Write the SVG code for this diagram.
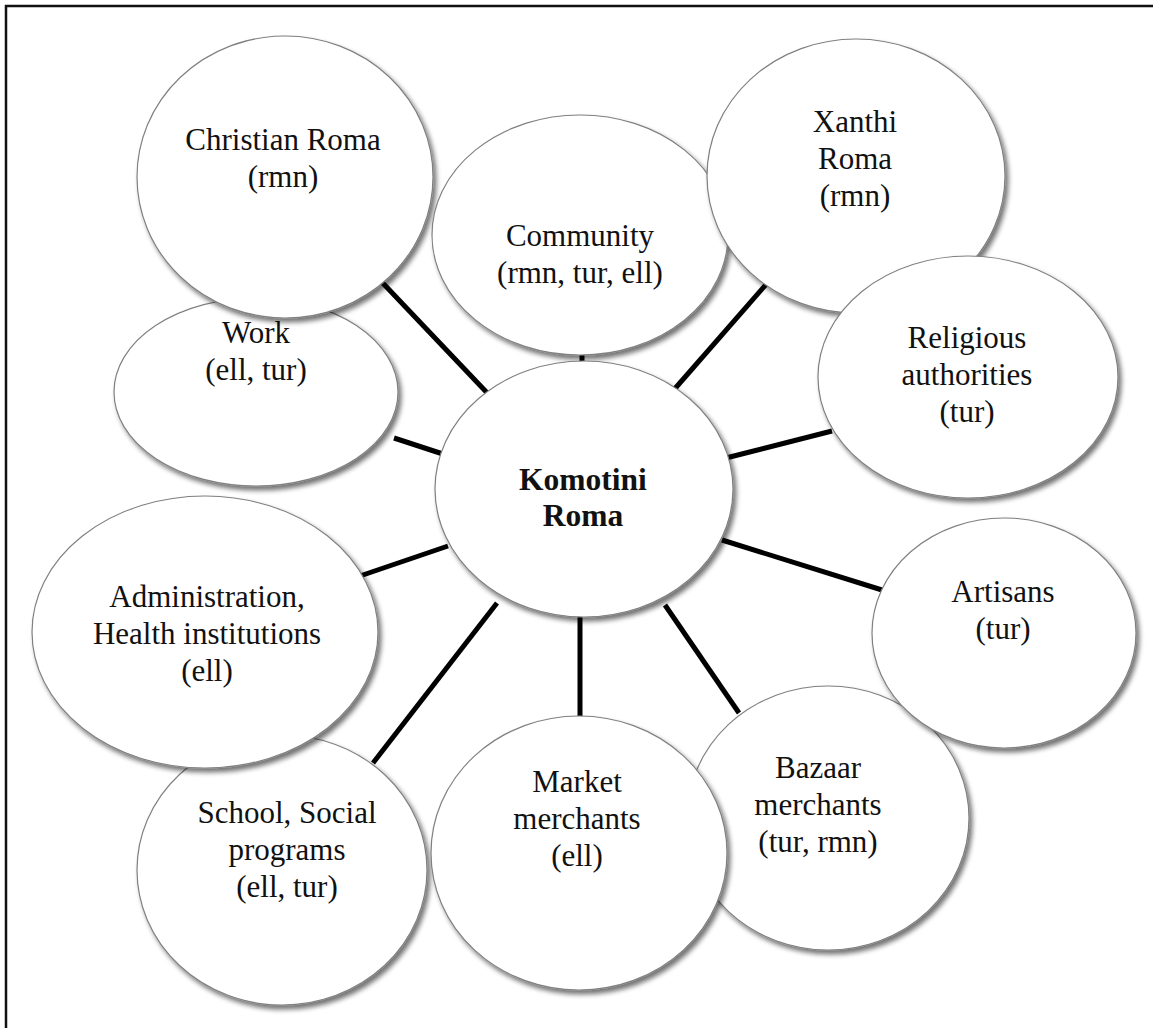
<svg xmlns="http://www.w3.org/2000/svg" width="1153" height="1028" viewBox="0 0 1153 1028">
<style>
.node{fill:#fff;stroke:#808080;stroke-width:1.2;filter:url(#sh)}
text{font-family:'Liberation Serif',serif;font-size:31px;fill:#111;text-anchor:middle}
.b{font-weight:bold;font-size:31.5px}
.c{stroke:#000;stroke-width:5;fill:none}
</style>
<defs>
<filter id="sh" x="-10%" y="-10%" width="125%" height="125%">
<feGaussianBlur in="SourceAlpha" stdDeviation="2.5"/>
<feOffset dx="2.5" dy="3.5" result="o"/>
<feComponentTransfer><feFuncA type="linear" slope="0.55"/></feComponentTransfer>
<feMerge><feMergeNode/><feMergeNode in="SourceGraphic"/></feMerge>
</filter>
</defs>
<rect x="0" y="0" width="1153" height="1028" fill="#fff"/>
<rect x="6" y="6" width="1170" height="1050" fill="none" stroke="#111" stroke-width="2.5"/>
<g id="connectors">
<line class="c" x1="378" y1="278" x2="492" y2="398"/>
<line class="c" x1="582" y1="330" x2="582" y2="365"/>
<line class="c" x1="769" y1="281" x2="672" y2="392"/>
<line class="c" x1="832" y1="431" x2="722" y2="459"/>
<line class="c" x1="394" y1="438" x2="446" y2="455"/>
<line class="c" x1="722" y1="540" x2="882" y2="590"/>
<line class="c" x1="357" y1="577" x2="448" y2="546"/>
<line class="c" x1="373" y1="763" x2="497" y2="603"/>
<line class="c" x1="580" y1="603" x2="580" y2="721"/>
<line class="c" x1="665" y1="605" x2="739" y2="713"/>
</g>
<g id="bazaar"><ellipse class="node" cx="828" cy="818" rx="141" ry="132"/>
<text x="818" y="778">Bazaar</text><text x="818" y="815">merchants</text><text x="818" y="852">(tur, rmn)</text></g>
<g id="artisans"><ellipse class="node" cx="1004" cy="633" rx="132" ry="115"/>
<text x="1003" y="602">Artisans</text><text x="1003" y="639">(tur)</text></g>
<g id="school"><ellipse class="node" cx="282" cy="870" rx="145" ry="135"/>
<text x="287" y="823">School, Social</text><text x="287" y="860">programs</text><text x="287" y="897">(ell, tur)</text></g>
<g id="market"><ellipse class="node" cx="579" cy="853" rx="148" ry="137"/>
<text x="577" y="792">Market</text><text x="577" y="829">merchants</text><text x="577" y="866">(ell)</text></g>
<g id="admin"><ellipse class="node" cx="205" cy="632" rx="173" ry="136"/>
<text x="207" y="607">Administration,</text><text x="207" y="644">Health institutions</text><text x="207" y="681">(ell)</text></g>
<g id="work"><ellipse class="node" cx="256" cy="392" rx="142" ry="94"/>
<text x="256" y="343">Work</text><text x="256" y="380">(ell, tur)</text></g>
<g id="christian"><ellipse class="node" cx="285" cy="177" rx="148" ry="141"/>
<text x="283" y="150">Christian Roma</text><text x="283" y="187">(rmn)</text></g>
<g id="community"><ellipse class="node" cx="580" cy="235" rx="148" ry="120"/>
<text x="580" y="246">Community</text><text x="580" y="283">(rmn, tur, ell)</text></g>
<g id="xanthi"><ellipse class="node" cx="856" cy="176" rx="149" ry="137"/>
<text x="855" y="132">Xanthi</text><text x="855" y="169">Roma</text><text x="855" y="206">(rmn)</text></g>
<g id="religious"><ellipse class="node" cx="968" cy="377" rx="150" ry="121"/>
<text x="967" y="348">Religious</text><text x="967" y="385">authorities</text><text x="967" y="422">(tur)</text></g>
<g id="komotini"><ellipse class="node" cx="584" cy="489" rx="149" ry="128"/>
<text class="b" x="583" y="490">Komotini</text><text class="b" x="583" y="526">Roma</text></g>
</svg>
